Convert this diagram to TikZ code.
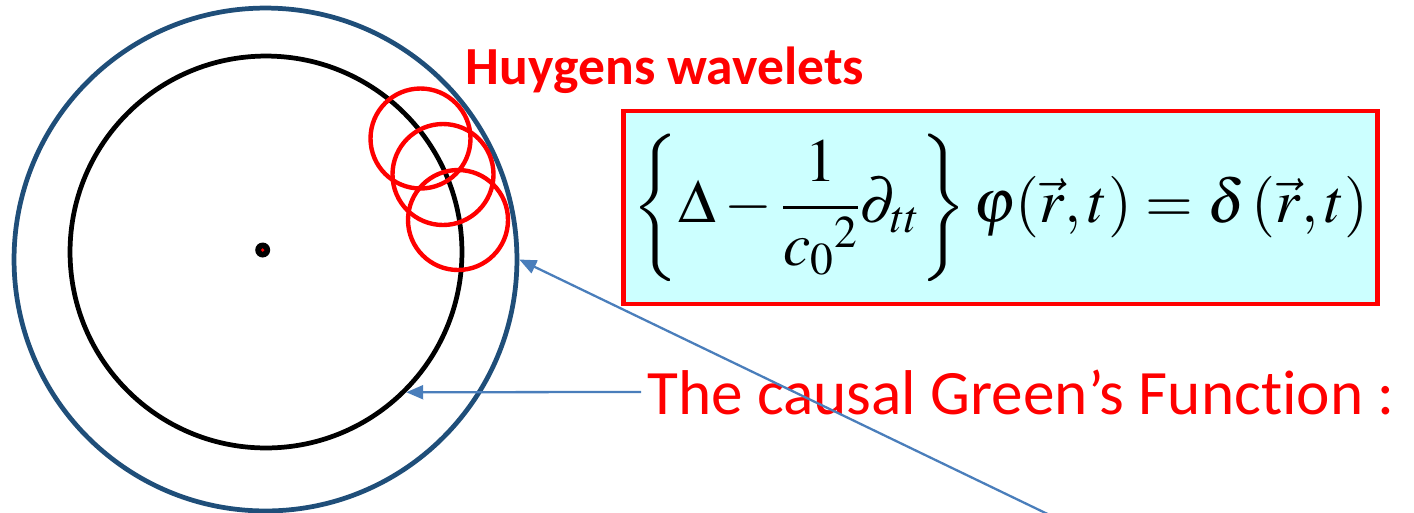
\documentclass[tikz,border=0pt]{standalone}
\usepackage{mathptmx}
\usepackage[no-math]{fontspec}
\newfontfamily\calibri[Ligatures=NoCommon]{Carlito}
\usetikzlibrary{arrows.meta}
\definecolor{frontblue}{HTML}{1F4E79}
\definecolor{arrowblue}{HTML}{4A7EBB}
\definecolor{boxcyan}{HTML}{CCFFFF}

\begin{document}
\begin{tikzpicture}[
    x=0.02cm, y=-0.02cm,
    front/.style={circle, minimum size=#1, inner sep=0pt, line width=2.7pt},
    wavelet/.style={red, line width=2.5pt},
    pointer/.style={-{Triangle[length=3.4mm,width=2.8mm]}, line width=1.3pt, arrowblue}
  ]
  \useasboundingbox (0,0) rectangle (1414,512);
  % wave fronts
  \node[front=10.06cm, draw=frontblue] (outer) at (265.5,259.5) {};
  \node[front=7.84cm, draw=black] (inner) at (266,252) {};
  \node[circle, fill=black, minimum size=0.3cm, inner sep=0pt] (source) at (262.7,250) {};
  \fill[red] (source) circle (1.8);
  % secondary wavelets
  \draw[wavelet] (420.5,138.5) circle (50);
  \draw[wavelet] (443,174.5) circle (50.5);
  \draw[wavelet] (458,220) circle (50);
  \node[red, inner sep=1pt, font=\calibri\bfseries\fontsize{30.5}{34}\selectfont] (huygens) at (665,70) {Huygens wavelets};
  % wave equation
  \node[draw=red, line width=2.8pt, fill=boxcyan, minimum width=15.1cm, minimum height=3.86cm,
        font=\fontsize{35}{40}\selectfont] (wave) at (1000.5,207.5)
    {$\displaystyle\left\{\Delta-\frac{1}{{c_0}^{2}}\partial_{tt}\right\}\varphi(\vec{r},t)=\delta\left(\vec{r},t\right)$};
  \node[red, font=\calibri\fontsize{36}{40}\selectfont] (green) at (1021,392) {The causal Green’s Function :};
  % pointers
  \coordinate (tail) at (1060,520);
  \draw[pointer] (green.west) -- (inner.-45);
  \draw[pointer] (tail) -- (outer.0);
\end{tikzpicture}
\end{document}
